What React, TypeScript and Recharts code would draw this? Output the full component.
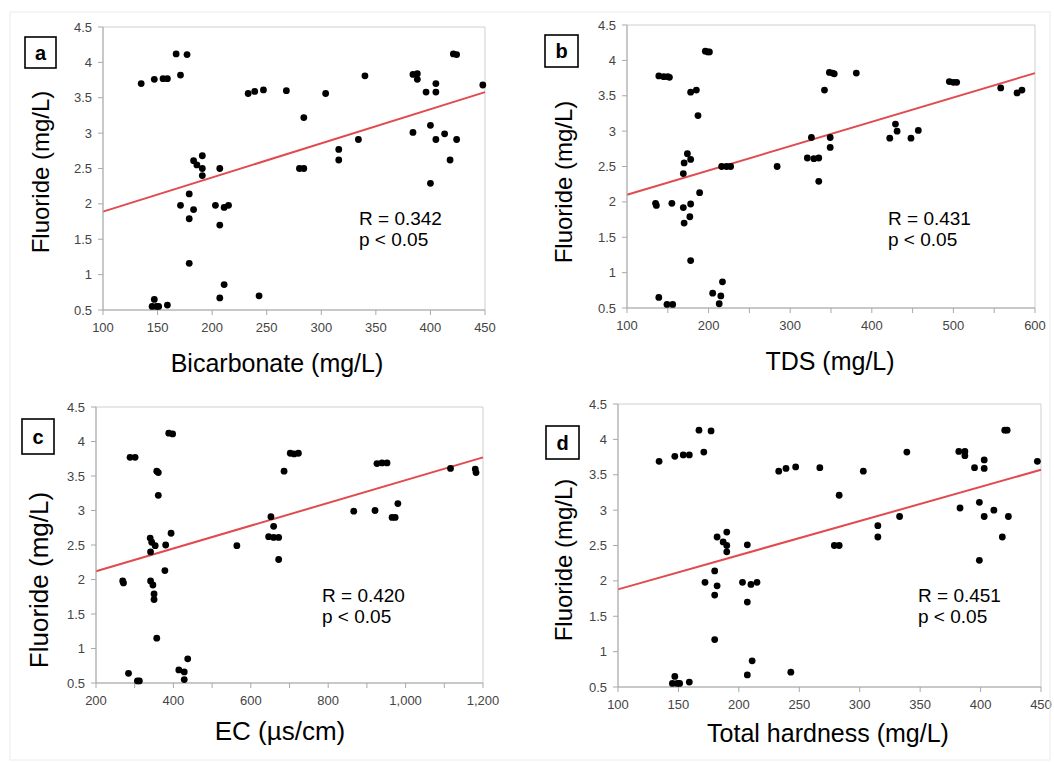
import React from 'react';
import { ScatterChart, Scatter, XAxis, YAxis, ReferenceLine, ReferenceArea } from 'recharts';

// fluoride axis shared by all four panels
const fluorideTicks = [0.5, 1, 1.5, 2, 2.5, 3, 3.5, 4, 4.5];

// a: bicarbonate
const bicarbonate = [135, 147, 155, 159, 167, 177, 171, 233, 239, 247, 268, 304, 284, 340, 384, 388, 388, 396, 405, 405, 421, 424, 448, 384, 400, 405, 413, 424, 418, 400, 334, 316, 316, 280, 284, 183, 191, 186, 191, 191, 207, 179, 171, 183, 179, 203, 211, 215, 207, 179, 211, 207, 243, 147, 145, 149, 151, 159];
const fluorideA = [3.70, 3.76, 3.77, 3.77, 4.12, 4.11, 3.82, 3.56, 3.59, 3.61, 3.60, 3.56, 3.22, 3.81, 3.83, 3.84, 3.76, 3.58, 3.70, 3.58, 4.12, 4.11, 3.68, 3.01, 3.11, 2.91, 2.99, 2.91, 2.62, 2.29, 2.91, 2.77, 2.62, 2.50, 2.50, 2.61, 2.68, 2.55, 2.50, 2.40, 2.50, 2.14, 1.98, 1.92, 1.79, 1.98, 1.95, 1.98, 1.70, 1.16, 0.86, 0.67, 0.70, 0.65, 0.55, 0.55, 0.55, 0.57];
const bicarbonateTicks = [100, 150, 200, 250, 300, 350, 400, 450];
const bicarbonateFit = [1.89, 3.58];

// b: TDS
const tds = [139, 145, 150, 152, 196, 199, 201, 178, 185, 187, 174, 178, 170, 169, 189, 135, 136, 155, 178, 169, 177, 170, 178, 139, 149, 156, 205, 215, 217, 213, 216, 222, 227, 284, 326, 321, 329, 335, 335, 349, 349, 342, 348, 352, 354, 381, 429, 422, 431, 448, 457, 495, 500, 504, 558, 578, 584];
const fluorideB = [3.78, 3.77, 3.77, 3.76, 4.13, 4.12, 4.12, 3.55, 3.58, 3.22, 2.68, 2.60, 2.55, 2.40, 2.13, 1.98, 1.95, 1.98, 1.97, 1.92, 1.79, 1.70, 1.17, 0.65, 0.55, 0.55, 0.71, 0.67, 0.87, 0.56, 2.50, 2.50, 2.50, 2.50, 2.91, 2.62, 2.61, 2.62, 2.29, 2.91, 2.77, 3.58, 3.83, 3.82, 3.81, 3.82, 3.10, 2.90, 3.00, 2.90, 3.01, 3.70, 3.69, 3.69, 3.61, 3.54, 3.58];
const tdsTicks = [100, 150, 200, 250, 300, 350, 400, 450, 500, 550, 600];
const tdsFit = [2.10, 3.82];

// c: EC
const ec = [388, 398, 288, 301, 357, 361, 361, 269, 271, 341, 347, 350, 350, 357, 284, 307, 312, 414, 428, 428, 437, 340, 344, 353, 341, 380, 394, 378, 564, 652, 659, 646, 659, 672, 672, 686, 702, 712, 723, 866, 921, 965, 973, 980, 926, 939, 952, 1116, 1180, 1182];
const fluorideC = [4.12, 4.11, 3.77, 3.77, 3.57, 3.55, 3.22, 1.98, 1.95, 1.98, 1.92, 1.79, 1.71, 1.15, 0.64, 0.53, 0.53, 0.69, 0.66, 0.55, 0.85, 2.60, 2.54, 2.49, 2.40, 2.50, 2.67, 2.13, 2.49, 2.91, 2.77, 2.62, 2.61, 2.61, 2.29, 3.57, 3.83, 3.82, 3.83, 2.99, 3.00, 2.90, 2.90, 3.10, 3.68, 3.69, 3.69, 3.61, 3.60, 3.55];
const ecTicks = [200, 300, 400, 500, 600, 700, 800, 900, 1000, 1100, 1200];
const ecFit = [2.12, 3.77];

// d: total hardness
const hardness = [134, 147, 154, 159, 167, 177, 171, 233, 239, 247, 267, 303, 283, 339, 382, 387, 387, 395, 403, 403, 420, 422, 447, 383, 399, 403, 411, 423, 418, 399, 333, 315, 315, 279, 283, 182, 190, 187, 190, 190, 207, 180, 172, 182, 180, 203, 210, 215, 207, 180, 211, 207, 243, 147, 145, 149, 151, 159];
const fluorideD = [3.69, 3.76, 3.78, 3.78, 4.13, 4.12, 3.82, 3.55, 3.59, 3.61, 3.60, 3.55, 3.21, 3.82, 3.83, 3.83, 3.77, 3.60, 3.71, 3.59, 4.13, 4.13, 3.69, 3.03, 3.11, 2.91, 3.00, 2.91, 2.62, 2.29, 2.91, 2.78, 2.62, 2.50, 2.50, 2.62, 2.69, 2.55, 2.50, 2.41, 2.51, 2.14, 1.98, 1.93, 1.80, 1.98, 1.95, 1.98, 1.70, 1.17, 0.87, 0.67, 0.71, 0.65, 0.55, 0.55, 0.55, 0.57];
const hardnessTicks = [100, 150, 200, 250, 300, 350, 400, 450];
const hardnessFit = [1.88, 3.57];

const FONT = '"Liberation Sans", Arial, sans-serif';
const TICK_FONT = '"Liberation Sans Narrow", "Liberation Sans", Arial, sans-serif';

const Dot = (p: any) => <circle cx={p.cx} cy={p.cy} r={3.4} fill="#000" />;

type PanelProps = {
  left: number;
  top: number;
  width: number;
  height: number;
  xs: number[];
  ys: number[];
  ticks: number[];
  labelStep: number;
  fit: number[];
};

const Panel = ({ left, top, width, height, xs, ys, ticks, labelStep, fit }: PanelProps) => {
  const data = xs.map((x, i) => ({ x, y: ys[i] }));
  const x0 = ticks[0];
  const x1 = ticks[ticks.length - 1];
  return (
    <div style={{ position: 'absolute', left: left - 60, top: top - 10 }}>
      <ScatterChart width={width + 85} height={height + 50} margin={{ top: 10, right: 25, bottom: 10, left: 20 }}>
        <XAxis
          type="number"
          dataKey="x"
          domain={[x0, x1]}
          ticks={ticks}
          interval={0}
          height={30}
          stroke="#a9a9a9"
          tickSize={5}
          tickMargin={8}
          tick={{ fill: '#444', fontSize: 13, fontFamily: TICK_FONT }}
          tickFormatter={(v: number) => ((v - x0) % labelStep === 0 ? v.toLocaleString('en-US') : '')}
        />
        <YAxis
          type="number"
          dataKey="y"
          domain={[0.5, 4.5]}
          ticks={fluorideTicks}
          interval={0}
          width={40}
          stroke="#a9a9a9"
          tickSize={5}
          tickMargin={6}
          tick={{ fill: '#444', fontSize: 13, fontFamily: TICK_FONT }}
        />
        <ReferenceArea x1={x0} x2={x1} y1={0.5} y2={4.5} fill="none" fillOpacity={0} stroke="#cfcfcf" />
        <ReferenceLine
          segment={[{ x: x0, y: fit[0] }, { x: x1, y: fit[1] }]}
          stroke="#e14b4f"
          strokeWidth={2}
        />
        <Scatter data={data} shape={Dot} isAnimationActive={false} />
      </ScatterChart>
    </div>
  );
};

const LetterBox = ({ x, y, w, h, letter }: any) => (
  <g>
    <rect x={x} y={y} width={w} height={h} fill="#fff" stroke="#000" strokeWidth={1.6} />
    <text x={x + w / 2} y={y + h / 2 + 7} textAnchor="middle" fontSize={20} fontWeight="bold">{letter}</text>
  </g>
);

const YLabel = ({ x, y, size }: any) => (
  <text transform={`translate(${x},${y}) rotate(-90)`} textAnchor="middle" dominantBaseline="central" fontSize={size}>
    Fluoride (mg/L)
  </text>
);

const Stats = ({ x, y, r }: any) => (
  <g fontSize={19}>
    <text x={x} y={y}>R = {r}</text>
    <text x={x} y={y + 21}>p &lt; 0.05</text>
  </g>
);

export default function App() {
  return (
    <div style={{ position: 'absolute', left: 0, top: 0, width: 1054, height: 763, background: '#fff', fontFamily: FONT }}>
      <Panel left={103} top={27} width={382} height={283} xs={bicarbonate} ys={fluorideA} ticks={bicarbonateTicks} labelStep={50} fit={bicarbonateFit} />
      <Panel left={627} top={25} width={408} height={283} xs={tds} ys={fluorideB} ticks={tdsTicks} labelStep={100} fit={tdsFit} />
      <Panel left={96} top={407} width={387} height={276} xs={ec} ys={fluorideC} ticks={ecTicks} labelStep={200} fit={ecFit} />
      <Panel left={618} top={404} width={423} height={283} xs={hardness} ys={fluorideD} ticks={hardnessTicks} labelStep={50} fit={hardnessFit} />
      <svg width={1054} height={763} style={{ position: 'absolute', left: 0, top: 0, pointerEvents: 'none' }} fontFamily={FONT} fill="#000">
        <rect x={10} y={12} width={1040} height={748} fill="none" stroke="#ececec" />
        <LetterBox x={25} y={37} w={31} h={31} letter="a" />
        <LetterBox x={545} y={35} w={33} h={32} letter="b" />
        <LetterBox x={22} y={419} w={32} h={35} letter="c" />
        <LetterBox x={546} y={426} w={33} h={33} letter="d" />
        <YLabel x={40} y={172} size={24} />
        <YLabel x={563} y={182} size={24} />
        <YLabel x={39} y={580} size={26} />
        <YLabel x={563} y={560} size={24} />
        <text x={277} y={372} textAnchor="middle" fontSize={25}>Bicarbonate (mg/L)</text>
        <text x={830} y={370} textAnchor="middle" fontSize={25}>TDS (mg/L)</text>
        <text x={280} y={740} textAnchor="middle" fontSize={26}>EC (µs/cm)</text>
        <text x={828} y={742} textAnchor="middle" fontSize={25}>Total hardness (mg/L)</text>
        <Stats x={359} y={225} r="0.342" />
        <Stats x={888} y={225} r="0.431" />
        <Stats x={322} y={602} r="0.420" />
        <Stats x={918} y={602} r="0.451" />
      </svg>
    </div>
  );
}
